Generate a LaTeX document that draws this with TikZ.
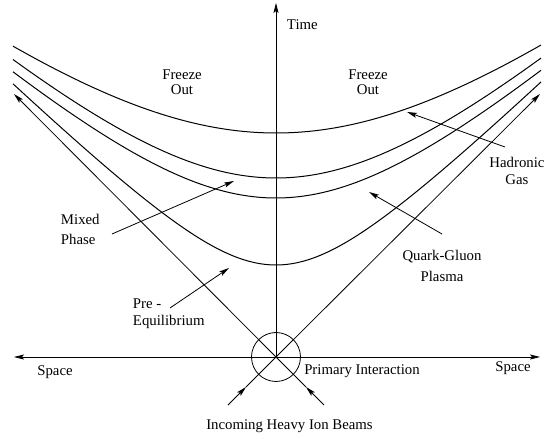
\documentclass[tikz,border=0pt]{standalone}
\usepackage{fontspec}
\setmainfont{Liberation Serif}
\usetikzlibrary{arrows.meta, positioning}

\tikzset{
  lbl/.style={font=\fontsize{14.8pt}{17pt}\selectfont, inner sep=0pt},
  ray/.style={line width=0.9pt},
  pointer/.style={line width=0.8pt, -{Stealth[length=10pt, width=5pt, inset=2pt]}},
  hyper/.style={line width=1pt, smooth, samples=80, domain=-263:265}
}

\begin{document}
\begin{tikzpicture}[x=1pt, y=1pt, every node/.style={outer sep=0pt}]
    \useasboundingbox (-276,-82) rectangle (268,357);

    % Origin and interaction circle
    \coordinate (O) at (0,0);
    \node[circle, draw, line width=0.8pt, minimum size=49pt, inner sep=0pt] (pint) at (O) {};

    % Axes
    \coordinate (ttop) at (0,354);
    \coordinate (sleft) at (-262,0);
    \coordinate (sright) at (264,0);
    \draw[pointer] (O) -- (ttop);
    \draw[pointer] (O) -- (sleft);
    \draw[pointer] (O) -- (sright);
    \node[lbl, anchor=west] (time) at (11,332) {Time};
    \node[lbl] (spacel) at (-221,-15) {Space};
    \node[lbl] (spacer) at (237,-11) {Space};

    % Light cone
    \coordinate (conel) at (-262,263);
    \coordinate (coner) at (264,263);
    \draw[pointer] (O) -- (conel);
    \draw[pointer] (O) -- (coner);

    % Incoming beams
    \coordinate (beaml) at (-48,-48);
    \coordinate (beamr) at (48,-48);
    \coordinate (tipl) at (-30,-30);
    \coordinate (tipr) at (30,-30);
    \draw[pointer] (beaml) -- (tipl);
    \draw[ray] (tipl) -- (O);
    \draw[pointer] (beamr) -- (tipr);
    \draw[ray] (tipr) -- (O);

    % Proper time curves
    \draw[hyper] plot (\x, {100*sqrt(2.24^2 + (0.0082*\x)^2)});
    \draw[hyper] plot (\x, {100*sqrt(1.79^2 + (0.00904*\x)^2)});
    \draw[hyper] plot (\x, {100*sqrt(1.59^2 + (0.0090*\x)^2)});
    \draw[hyper] plot (\x, {100*sqrt(0.92^2 + (0.00978*\x)^2)});

    % Region labels
    \node[lbl, align=center] (freezel) at (-94,274.5) {Freeze\\[-2pt]Out};
    \node[lbl, align=center] (freezer) at (92,274.5) {Freeze\\[-2pt]Out};
    \node[lbl, align=center] (hadron) at (241,186) {Hadronic\\Gas};
    \node[lbl, align=center] (qgp) at (166,91.5) {Quark-Gluon\\[4pt]Plasma};
    \node[lbl, align=left, anchor=west] (mixed) at (-215,128) {Mixed\\[3pt]Phase};
    \node[lbl, align=left, anchor=west] (preq) at (-143,43.5) {Pre -\\Equilibrium};

    % Pointers into regions
    \coordinate (mixeds) at (-164,123);
    \coordinate (mixedt) at (-42,176);
    \coordinate (preqs) at (-106,49);
    \coordinate (preqt) at (-47,89);
    \coordinate (hadrons) at (229,210);
    \coordinate (hadront) at (131,245);
    \coordinate (qgps) at (166,123);
    \coordinate (qgpt) at (93,165);
    \draw[pointer] (mixeds) -- (mixedt);
    \draw[pointer] (preqs) -- (preqt);
    \draw[pointer] (hadrons) -- (hadront);
    \draw[pointer] (qgps) -- (qgpt);

    % Interaction labels
    \node[lbl] (primary) at (86,-14) {Primary Interaction};
    \node[lbl] (beams) at (13.5,-69) {Incoming Heavy Ion Beams};
\end{tikzpicture}
\end{document}
